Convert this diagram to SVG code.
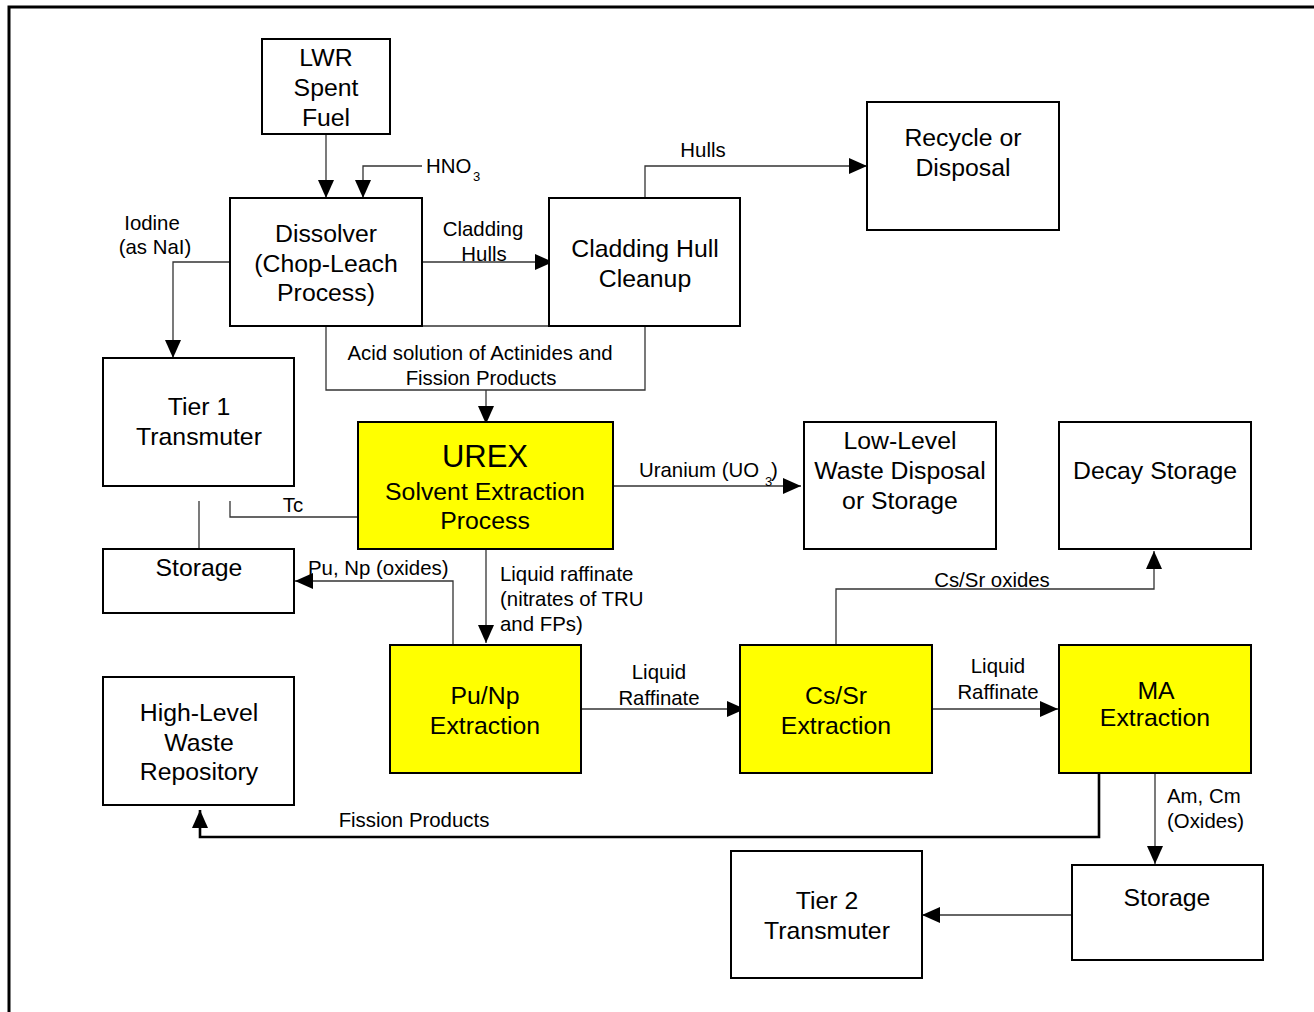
<svg xmlns="http://www.w3.org/2000/svg" width="1314" height="1012" viewBox="0 0 1314 1012">
<defs>
<marker id="ah" viewBox="0 0 18 16" refX="18" refY="8" markerWidth="18" markerHeight="16" markerUnits="userSpaceOnUse" orient="auto">
<path d="M0,0 L18,8 L0,16 z" fill="#000"/>
</marker>
</defs>
<style>
.box{fill:#fff;stroke:#000;stroke-width:2}
.y{fill:#ffff00;stroke:#000;stroke-width:2}
.nt{font-family:"Liberation Sans",Arial,sans-serif;font-size:24.8px;fill:#000;text-anchor:middle}
.lb{font-family:"Liberation Sans",Arial,sans-serif;font-size:20.4px;fill:#000}
.c{text-anchor:middle}
.ln{fill:none;stroke:#333;stroke-width:1.3}
.arr{marker-end:url(#ah)}
.thick{fill:none;stroke:#000;stroke-width:2.6}
</style>
<rect x="0" y="0" width="1314" height="1012" fill="#fff"/>
<path d="M9,1012 V7 H1314" fill="none" stroke="#000" stroke-width="3"/>

<g id="connectors">
<path class="ln arr" d="M326,134 V198"/>
<path class="ln arr" d="M422,166 H363 V198"/>
<path class="ln arr" d="M230,262 H173 V358"/>
<path class="ln arr" d="M422,262 H553"/>
<path class="ln arr" d="M645,198 V166 H867"/>
<path class="ln" d="M422,326 H549"/>
<path class="ln" d="M326,326 V390 H645 V326"/>
<path class="ln arr" d="M486,390 V424"/>
<path class="ln" d="M358,517 H230 V501"/>
<path class="ln" d="M199,501 V549"/>
<path class="ln arr" d="M453,645 V581 H295"/>
<path class="ln arr" d="M486,549 V643"/>
<path class="ln arr" d="M613,486 H801"/>
<path class="ln arr" d="M836,645 V589 H1154 V551"/>
<path class="ln arr" d="M581,709 H745"/>
<path class="ln arr" d="M932,709 H1058"/>
<path class="thick arr" d="M1099,769 V837 H200 V810"/>
<path class="ln arr" d="M1155,773 V864"/>
<path class="ln arr" d="M1072,915 H922"/>
<text class="lb" x="426" y="173">HNO</text><text class="lb" x="473" y="181" style="font-size:13px">3</text>
<text class="lb c" x="152" y="230">Iodine</text>
<text class="lb c" x="155" y="254">(as NaI)</text>
<text class="lb c" x="483" y="236">Cladding</text>
<text class="lb c" x="484" y="261">Hulls</text>
<text class="lb c" x="703" y="157">Hulls</text>
<text class="lb c" x="480" y="360">Acid solution of Actinides and</text>
<text class="lb c" x="481" y="385">Fission Products</text>
<text class="lb c" x="293" y="512">Tc</text>
<text class="lb" x="308" y="575">Pu, Np (oxides)</text>
<text class="lb" x="500" y="581">Liquid raffinate</text>
<text class="lb" x="500" y="606">(nitrates of TRU</text>
<text class="lb" x="500" y="631">and FPs)</text>
<text class="lb" x="639" y="477">Uranium (UO</text><text class="lb" x="765" y="486" style="font-size:13px">3</text><text class="lb" x="771" y="477">)</text>
<text class="lb c" x="992" y="587">Cs/Sr oxides</text>
<text class="lb c" x="659" y="679">Liquid</text>
<text class="lb c" x="659" y="705">Raffinate</text>
<text class="lb c" x="998" y="673">Liquid</text>
<text class="lb c" x="998" y="699">Raffinate</text>
<text class="lb c" x="414" y="827">Fission Products</text>
<text class="lb" x="1167" y="803">Am, Cm</text>
<text class="lb" x="1167" y="828">(Oxides)</text>
</g>

<g id="lwr"><rect class="box" x="262" y="39" width="128" height="95"/>
<text class="nt" x="326" y="66">LWR</text><text class="nt" x="326" y="96">Spent</text><text class="nt" x="326" y="126">Fuel</text></g>

<g id="dissolver"><rect class="box" x="230" y="198" width="192" height="128"/>
<text class="nt" x="326" y="242">Dissolver</text><text class="nt" x="326" y="272">(Chop-Leach</text><text class="nt" x="326" y="301">Process)</text></g>

<g id="cladding"><rect class="box" x="549" y="198" width="191" height="128"/>
<text class="nt" x="645" y="257">Cladding Hull</text><text class="nt" x="645" y="287">Cleanup</text></g>

<g id="recycle"><rect class="box" x="867" y="102" width="192" height="128"/>
<text class="nt" x="963" y="146">Recycle or</text><text class="nt" x="963" y="176">Disposal</text></g>

<g id="tier1"><rect class="box" x="103" y="358" width="191" height="128"/>
<text class="nt" x="199" y="415">Tier 1</text><text class="nt" x="199" y="445">Transmuter</text></g>

<g id="urex"><rect class="y" x="358" y="422" width="255" height="127"/>
<text class="nt" x="485" y="467" style="font-size:31px">UREX</text><text class="nt" x="485" y="500">Solvent Extraction</text><text class="nt" x="485" y="529">Process</text></g>

<g id="storage1"><rect class="box" x="103" y="549" width="191" height="64"/>
<text class="nt" x="199" y="576">Storage</text></g>

<g id="lowlevel"><rect class="box" x="804" y="422" width="192" height="127"/>
<text class="nt" x="900" y="449">Low-Level</text><text class="nt" x="900" y="479">Waste Disposal</text><text class="nt" x="900" y="509">or Storage</text></g>

<g id="decay"><rect class="box" x="1059" y="422" width="192" height="127"/>
<text class="nt" x="1155" y="479">Decay Storage</text></g>

<g id="punp"><rect class="y" x="390" y="645" width="191" height="128"/>
<text class="nt" x="485" y="704">Pu/Np</text><text class="nt" x="485" y="734">Extraction</text></g>

<g id="cssr"><rect class="y" x="740" y="645" width="192" height="128"/>
<text class="nt" x="836" y="704">Cs/Sr</text><text class="nt" x="836" y="734">Extraction</text></g>

<g id="ma"><rect class="y" x="1059" y="645" width="192" height="128"/>
<text class="nt" x="1156" y="699">MA</text><text class="nt" x="1155" y="726">Extraction</text></g>

<g id="hlw"><rect class="box" x="103" y="677" width="191" height="128"/>
<text class="nt" x="199" y="721">High-Level</text><text class="nt" x="199" y="751">Waste</text><text class="nt" x="199" y="780">Repository</text></g>

<g id="storage2"><rect class="box" x="1072" y="865" width="191" height="95"/>
<text class="nt" x="1167" y="906">Storage</text></g>

<g id="tier2"><rect class="box" x="731" y="851" width="191" height="127"/>
<text class="nt" x="827" y="909">Tier 2</text><text class="nt" x="827" y="939">Transmuter</text></g>
</svg>
